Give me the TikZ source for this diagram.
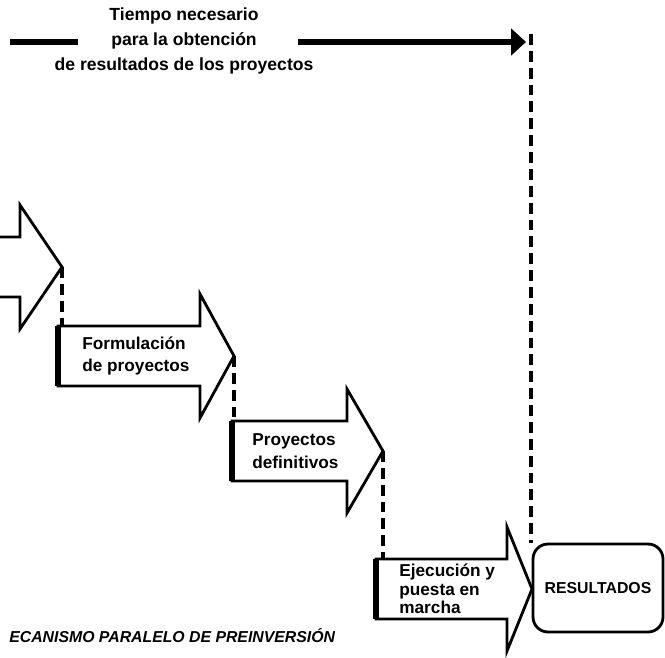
\documentclass[tikz,border=0pt]{standalone}
\usepackage{fontspec}
\setmainfont{Liberation Sans}
\usetikzlibrary{arrows.meta,calc,positioning}
\tikzset{
    blockarrow/.style={draw, line width=1.6pt, line join=miter, fill=white},
    tailedge/.style={line width=3.2pt},
    guide/.style={line width=2pt, dash pattern=on 6.2pt off 3.4pt},
    timeline/.style={line width=3.2pt},
    boxtext/.style={font=\bfseries\fontsize{9.8}{13}\selectfont, align=left, anchor=west, inner sep=0pt},
    toptext/.style={font=\bfseries\fontsize{10}{14.2}\selectfont, align=center, inner sep=0pt},
    resbox/.style={draw, line width=1.6pt, rounded corners=0.3cm, minimum width=2.6cm, minimum height=1.76cm, font=\bfseries\fontsize{9}{10}\selectfont},
    caption/.style={font=\bfseries\itshape\fontsize{9}{11}\selectfont, anchor=west, inner sep=0pt}
}

\begin{document}
\begin{tikzpicture}[x=0.02cm, y=-0.02cm]
    \useasboundingbox (0,0) rectangle (665,658);
    \clip (0,0) rectangle (665,658);

    % Draw block arrows.
    \foreach \ar/\l/\h/\t/\y in {pre/-40/20/62/267, form/58/200/234/356, def/232/347/383/451, ejec/376/507/532/589}{
        \draw[blockarrow] (\l,\y-30) -- (\h,\y-30) -- (\h,\y-62) -- (\t,\y)
            -- (\h,\y+62) -- (\h,\y+30) -- (\l,\y+30) -- cycle;
        \draw[tailedge] (\l,\y-30) -- (\l,\y+30);
        \coordinate (\ar tip) at (\t,\y);
        \coordinate (\ar top) at (\l,\y-30);
    }

    % Texts inside the arrows.
    \node[boxtext] (formtext) at (82,356) {Formulación\\de proyectos};
    \node[boxtext] (deftext) at (252,451) {Proyectos\\definitivos};
    \node[boxtext, font=\bfseries\fontsize{9.8}{10.4}\selectfont] (ejectext) at (399,589) {Ejecución y\\puesta en\\marcha};
    \node[resbox] (res) at (598,588) {RESULTADOS};

    % Dashed guides between the steps.
    \draw[guide] (pretip) -- (pretip |- formtop);
    \draw[guide] (formtip) -- (formtip |- deftop);
    \draw[guide] (deftip) -- (deftip |- ejectop);

    % Time needed for the results.
    \node[toptext] (tiempo) at (184,41) {Tiempo necesario\\para la obtención\\de resultados de los proyectos};
    \coordinate (timestart) at (10,42);
    \coordinate (gapl) at (78,42);
    \coordinate (gapr) at (298,42);
    \coordinate (timehead) at (526,42);
    \coordinate (timeend) at (531,34);
    \draw[timeline] (timestart) -- (gapl);
    \draw[timeline, -{Triangle[length=8.5pt, width=15pt]}] (gapr) -- (timehead);
    \draw[guide] (timeend) -- (timeend |- res.north);

    \node[caption] (cap) at (9,636) {ECANISMO PARALELO DE PREINVERSIÓN};
\end{tikzpicture}
\end{document}
